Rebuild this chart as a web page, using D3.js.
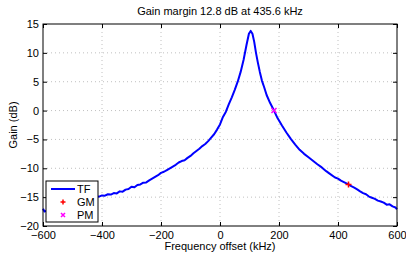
<!DOCTYPE html>
<html lang="en">
<head>
<meta charset="UTF-8">
<title>Gain margin</title>
<script src="https://d3js.org/d3.v7.min.js"></script>
<style>
  body { margin: 0; background: #fff; }
  svg text { font-family: "Liberation Sans", Arial, sans-serif; }
</style>
</head>
<body>
<script>
// frequency offset (kHz) and gain (dB)
const freq = [-600, -595, -585, -570, -550, -530, -510, -490, -470, -450, -430, -410, -400, -390, -380, -370,
  -360, -350, -340, -330, -320, -310, -300, -290, -280, -270, -260, -250, -240, -230, -220, -210, -200, -190,
  -180, -170, -160, -150, -140, -130, -120, -110, -100, -90, -80, -70, -60, -50, -40, -30, -20, -10, 0, 10,
  20, 30, 40, 50, 60, 70, 80, 90, 98, 104, 110, 116, 122, 128, 135, 142, 150, 158, 170, 183, 195, 210, 225,
  240, 255, 270, 285, 300, 315, 330, 345, 360, 375, 390, 400, 410, 420, 435.6, 445, 455, 465, 475, 485, 495,
  505, 515, 525, 535, 545, 555, 565, 575, 585, 595, 600];
const gain = [-17.0, -17.5, -17.3, -16.9, -16.6, -16.3, -16.0, -15.8, -15.5, -15.3, -15.1, -14.9, -14.7, -14.75, -14.5, -14.55,
  -14.3, -14.35, -14.0, -14.05, -13.7, -13.6, -13.2, -13.3, -12.9, -12.8, -12.5, -12.45, -12.1, -11.8, -11.5, -11.2, -10.8, -10.6,
  -10.3, -10.0, -9.7, -9.4, -9.0, -8.75, -8.6, -8.2, -7.85, -7.4, -7.0, -6.6, -6.15, -5.8, -5.3, -4.7, -4.1, -3.3, -2.4, -1.1,
  -0.2, 1.1, 2.3, 3.6, 5.0, 6.7, 8.8, 11.4, 13.3, 13.8, 13.3, 11.9, 10.0, 8.4, 6.7, 5.2, 4.0, 2.7, 1.3, 0.0, -1.3, -2.6, -3.8,
  -4.9, -5.9, -6.8, -7.5, -8.1, -8.7, -9.3, -9.85, -10.5, -11.05, -11.6, -11.8, -12.15, -12.4, -12.8, -13.1, -13.35, -13.65, -14.0, -14.3, -14.5,
  -14.9, -15.1, -15.3, -15.6, -15.75, -15.95, -16.3, -16.25, -16.6, -16.8, -17.1];

const gmPoint = [435.6, -12.8];
const pmPoint = [183, 0.0];
const xTicks = [-600, -400, -200, 0, 200, 400, 600];
const yTicks = [-20, -15, -10, -5, 0, 5, 10, 15];
const legendItems = ["TF", "GM", "PM"];
const title = "Gain margin 12.8 dB at 435.6 kHz";

const width = 406, height = 255;
const margin = { top: 24, right: 9, bottom: 29, left: 43 };
const w = width - margin.left - margin.right;
const h = height - margin.top - margin.bottom;

const svg = d3.select("body").append("svg")
  .attr("width", width).attr("height", height);

const g = svg.append("g").attr("transform", `translate(${margin.left},${margin.top})`);

const x = d3.scaleLinear().domain([-600, 600]).range([0, w]);
const y = d3.scaleLinear().domain([-20, 15]).range([h, 0]);

// grid
g.append("g").selectAll("line").data(xTicks.slice(1, -1)).join("line")
  .attr("x1", d => x(d)).attr("x2", d => x(d)).attr("y1", 0).attr("y2", h)
  .attr("stroke", "#b0b0b0").attr("stroke-width", 0.8).attr("stroke-dasharray", "1,3");
g.append("g").selectAll("line").data(yTicks.slice(1, -1)).join("line")
  .attr("y1", d => y(d)).attr("y2", d => y(d)).attr("x1", 0).attr("x2", w)
  .attr("stroke", "#b0b0b0").attr("stroke-width", 0.8).attr("stroke-dasharray", "1,3");

// data line
const line = d3.line().x((d, i) => x(freq[i])).y(d => y(d));
g.append("path").datum(gain).attr("d", line)
  .attr("fill", "none").attr("stroke", "#0000ff").attr("stroke-width", 2).attr("stroke-linejoin", "round");

// markers
function plus(sel, cx, cy, s, color) {
  sel.append("path").attr("d", `M${cx - s},${cy}H${cx + s}M${cx},${cy - s}V${cy + s}`)
    .attr("stroke", color).attr("stroke-width", 1.5);
}
function cross(sel, cx, cy, s, color) {
  sel.append("path").attr("d", `M${cx - s},${cy - s}L${cx + s},${cy + s}M${cx - s},${cy + s}L${cx + s},${cy - s}`)
    .attr("stroke", color).attr("stroke-width", 1.5);
}
plus(g, x(gmPoint[0]), y(gmPoint[1]), 3, "#ff0000");
cross(g, x(pmPoint[0]), y(pmPoint[1]), 2.5, "#ff00ff");

// axes (ticks inside, box on)
const fmt = d3.format("");
const ax = g.append("g").attr("transform", `translate(0,${h})`)
  .call(d3.axisBottom(x).tickValues(xTicks).tickFormat(fmt).tickSizeInner(-4).tickSizeOuter(0).tickPadding(5));
const ay = g.append("g")
  .call(d3.axisLeft(y).tickValues(yTicks).tickFormat(fmt).tickSizeInner(-4).tickSizeOuter(0).tickPadding(7));
g.append("g").attr("transform", `translate(0,0)`)
  .call(d3.axisTop(x).tickValues(xTicks).tickFormat("").tickSizeInner(-4).tickSizeOuter(0));
g.append("g").attr("transform", `translate(${w},0)`)
  .call(d3.axisRight(y).tickValues(yTicks).tickFormat("").tickSizeInner(-4).tickSizeOuter(0));
g.selectAll(".domain").remove();
g.selectAll(".tick line").attr("stroke", "#000");
g.selectAll(".tick text").attr("font-size", 11).attr("fill", "#000")
  .attr("font-family", "'Liberation Sans', Arial, sans-serif");
ay.selectAll(".tick text").attr("dx", 3);
g.append("rect").attr("width", w).attr("height", h)
  .attr("fill", "none").attr("stroke", "#000").attr("stroke-width", 1);

// labels
svg.append("text").attr("x", margin.left + w / 2).attr("y", 15)
  .attr("text-anchor", "middle").attr("font-size", 11).text(title);
svg.append("text").attr("x", margin.left + w / 2).attr("y", 250)
  .attr("text-anchor", "middle").attr("font-size", 11).text("Frequency offset (kHz)");
svg.append("text").attr("transform", `translate(17,${margin.top + h / 2}) rotate(-90)`)
  .attr("text-anchor", "middle").attr("font-size", 11).text("Gain (dB)");

// legend
const lg = svg.append("g").attr("transform", "translate(46,181)");
lg.append("rect").attr("width", 52).attr("height", 41)
  .attr("fill", "#fff").attr("stroke", "#000").attr("stroke-width", 1);
lg.selectAll("text").data(legendItems).join("text")
  .attr("x", 31).attr("y", (d, i) => 12 + i * 13)
  .attr("font-size", 11).text(d => d);
lg.append("line").attr("x1", 5).attr("x2", 29).attr("y1", 8).attr("y2", 8)
  .attr("stroke", "#0000ff").attr("stroke-width", 2);
plus(lg, 17, 21, 2.5, "#ff0000");
cross(lg, 17, 34, 2, "#ff00ff");
</script>
</body>
</html>
